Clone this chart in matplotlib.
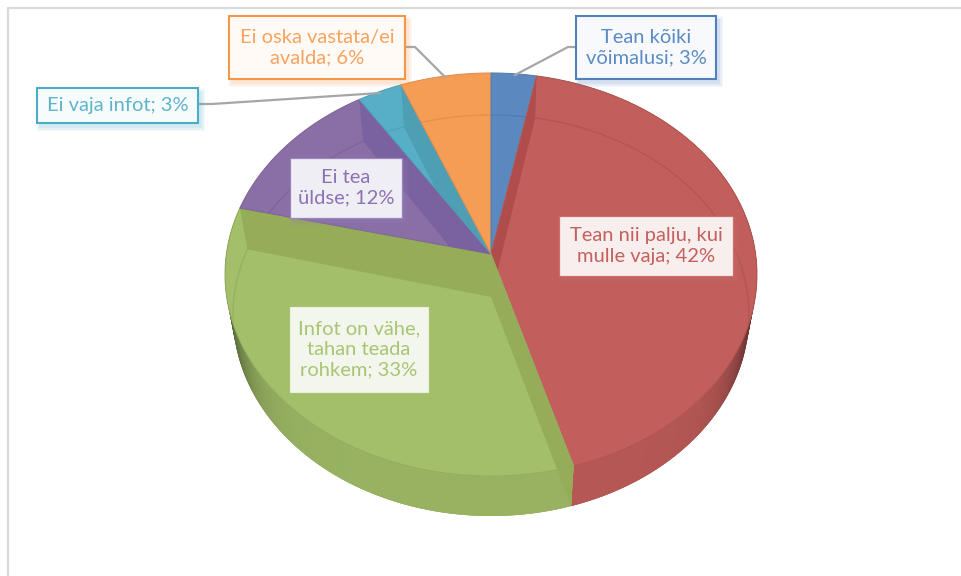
import numpy as np
import matplotlib
matplotlib.use('Agg')
import matplotlib.pyplot as plt
from matplotlib.patches import Rectangle

# Data
categories=['Tean kõiki\nvõimalusi','Tean nii palju, kui\nmulle vaja','Infot on vähe,\ntahan teada\nrohkem','Ei tea\nüldse','Ei vaja infot','Ei oska vastata/ei\navalda']
values=[3,42,33,12,3,6]

# Colours
face_colors=['#5B88BE','#C25E5B','#A3BF69','#8A6EA6','#57AFC7','#F59C55']
band_colors=['#5B88BE','#AE4D4B','#95AD58','#7A62A0','#4E9FB4','#F59C55']
text_colors=['#5C8BC4','#C4605D','#A9C574','#8D72B2','#5FB3CC','#F8A35F']
edge_colors=['#4F81BD','#C8716E','#A9C46E','#9A85BA','#4BACC6','#F79646']
box_fills=['#F7F9FC','#F8EEEE','#F3F6EC','#F0EEF5','#F6FBFC','#FFFAF5']

# Label boxes: left, top, right, bottom in pixels, and border width
boxes=[(576,16,716,79),(559,216,733,276),(289,306,429,393),(290,158,402,218),(37,88,198,123),(229,16,405,79)]
box_lw=[1.5,0.9,0.9,0.9,1.5,1.5]
leaders=[[(515,75),(568,47),(576,47)],None,None,None,[(380,93),(212,104),(198,104)],[(445,77),(415,47),(405,47)]]

# Perspective of the disc (fitted on the rim of the picture)
cx=491
vy=254
b_=-173.6
c_=264.6
k_=0.1017
drop=42
shrink=0.97

def rim(theta,lower=False):
    u=np.sin(theta)
    v=np.cos(theta)
    d=1+k_*v
    x=c_*u/d
    y=(vy+b_*v)/d
    if lower:
        return cx+shrink*x, y+drop-2*(1-v)/2
    return cx+x, y

def wedge_poly(t0,t1):
    t=np.linspace(t0,t1,120)
    x,y=rim(t)
    return np.r_[cx,x],np.r_[vy,y]

def shade(col,f):
    r=np.array(matplotlib.colors.to_rgb(col))
    return tuple(r*f)

fig=plt.figure(figsize=(9.61,5.76),dpi=100)
ax=fig.add_axes([0,0,1,1])
ax.set_xlim(0,961)
ax.set_ylim(576,0)
ax.axis('off')
plt.rcParams['font.family']=['Lato','DejaVu Sans']

# Frame of the chart
ax.plot([8,8,961],[576,8,8],color='#D9D9D9',lw=1.6,zorder=1)

fr=np.r_[0,np.cumsum(values)]/np.sum(values)*2*np.pi

# Outer wall, only the red and green slices show it
# each quad overlaps the next one so no seams show
for i in [1,2]:
    ts=np.linspace(fr[i],fr[i+1],200)
    order=range(len(ts)-1)
    if i==2:
        order=reversed(order)
    for j in order:
        a=ts[j]
        b=ts[min(j+3,len(ts)-1)] if i==1 else ts[j+1]
        if i==2:
            a=ts[max(j-2,0)]
        xa,ya=rim(a)
        xb,yb=rim(b)
        xc,yc=rim(b,True)
        xd,yd=rim(a,True)
        s=abs(np.sin(ts[j]))
        col=shade(face_colors[i],0.93-0.6*s**10)
        ax.fill([xa,xb,xc,xd],[ya,yb,yc,yd],facecolor=col,edgecolor='none',lw=0,zorder=2)

# Top faces, bands and inner arcs
band_edges=[(1,1),(2,2),(2,3),(3,4),(4,5)]
for i in range(len(values)):
    x,y=wedge_poly(fr[i],fr[i+1])
    face=ax.fill(x,y,color=face_colors[i],lw=0,zorder=3)[0]
    t=np.linspace(fr[i],fr[i+1],120)
    xl,yl=rim(t,True)
    arc,=ax.plot(xl,yl,color=shade(face_colors[i],0.92),lw=0.9,zorder=4)
    arc.set_clip_path(face)
    for owner,e in band_edges:
        if owner!=i:
            continue
        xa,ya=rim(fr[e])
        xb,yb=rim(fr[e],True)
        band=ax.fill([xa,cx,cx,xb],[ya,vy,vy+43,yb],color=band_colors[i],lw=0,zorder=4)[0]
        if owner!=2:
            band.set_clip_path(face)
    ax.plot(x,y,color=shade(face_colors[i],0.9),lw=0.7,zorder=5)

# Leader lines
for pts in leaders:
    if pts is None:
        continue
    ax.plot([p[0] for p in pts],[p[1] for p in pts],color='#A6A6A6',lw=1.6,zorder=6)

# Labels
for i in range(len(values)):
    l,t,r,b=boxes[i]
    for g,al in zip([8,5,2],[0.06,0.08,0.12]):
        ax.add_patch(Rectangle((l+3-g/2,t+4-g/2),r-l+g,b-t+g,color=edge_colors[i],alpha=al,lw=0,zorder=7))
    ax.add_patch(Rectangle((l,t),r-l,b-t,facecolor=box_fills[i],edgecolor=edge_colors[i],lw=box_lw[i],zorder=8))
    ax.text((l+r)/2,(t+b)/2,categories[i]+'; '+str(values[i])+'%',color=text_colors[i],fontsize=14.5,
            ha='center',va='center',linespacing=1.26,zorder=9)

plt.savefig('out.png',dpi=100)
